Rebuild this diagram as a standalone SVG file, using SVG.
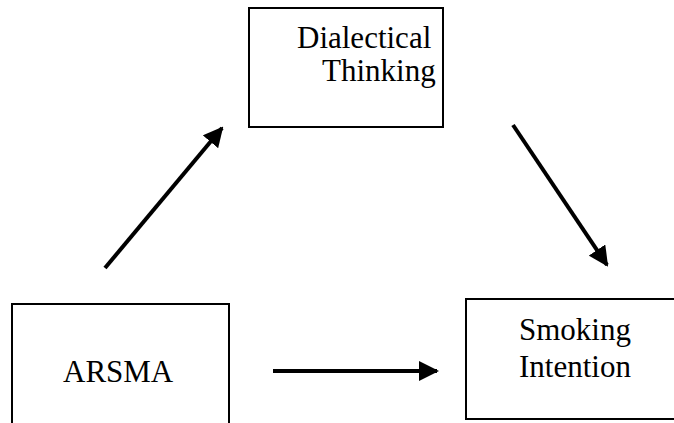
<svg xmlns="http://www.w3.org/2000/svg" width="674" height="423" viewBox="0 0 674 423">
<style>
.box{fill:#fff;stroke:#000;stroke-width:2}
.lbl{font-family:"Liberation Serif","Times New Roman",serif;font-size:31px;fill:#000}
.conn{stroke:#000;stroke-width:4;fill:none;marker-end:url(#ah)}
</style>
<defs>
<marker id="ah" viewBox="0 0 10 10" refX="9" refY="5" markerWidth="5" markerHeight="5" orient="auto" markerUnits="strokeWidth">
<path d="M0,0 L10,5 L0,10 z" fill="#000"/>
</marker>
</defs>
<rect width="674" height="423" fill="#fff"/>
<g id="dialectical">
<rect class="box" x="249" y="8" width="194" height="119"/>
<text class="lbl" x="297" y="48">Dialectical</text>
<text class="lbl" x="322" y="81">Thinking</text>
</g>
<g id="arsma">
<rect class="box" x="12" y="304" width="217" height="130"/>
<text class="lbl" x="63" y="382">ARSMA</text>
</g>
<g id="smoking">
<rect class="box" x="466" y="299" width="220" height="120"/>
<text class="lbl" x="519" y="340">Smoking</text>
<text class="lbl" x="519" y="377">Intention</text>
</g>
<g id="connectors">
<line class="conn" x1="105" y1="268" x2="222" y2="128"/>
<line class="conn" x1="513" y1="125" x2="607" y2="265"/>
<line class="conn" x1="273" y1="371" x2="437" y2="371"/>
</g>
</svg>
